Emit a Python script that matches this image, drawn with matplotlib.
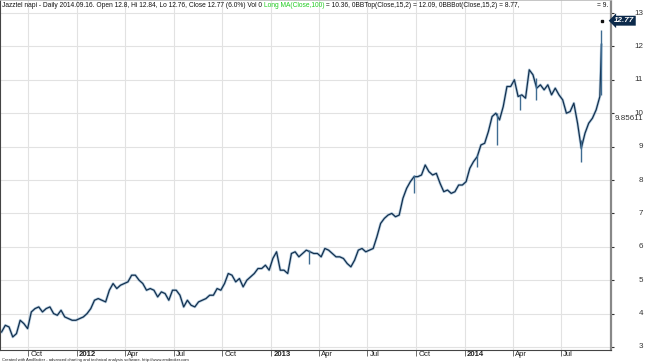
import matplotlib
matplotlib.use("Agg")
import matplotlib.pyplot as plt
import matplotlib.transforms as mtransforms
import numpy as np
import pandas as pd

# weekly closes (Fridays), Jazztel daily
week_start = "2011-08-12"
weekly_close = [
    3.45, 3.65, 3.6, 3.3, 3.4, 3.8, 3.7, 3.55, 4.05, 4.15,
    4.2, 4.05, 4.15, 4.2, 4.0, 3.95, 4.1, 3.9, 3.85, 3.8,
    3.8, 3.85, 3.9, 4.0, 4.15, 4.4, 4.45, 4.4, 4.35, 4.7,
    4.9, 4.75, 4.85, 4.9, 4.95, 5.15, 5.15, 5.0, 4.9, 4.7,
    4.75, 4.7, 4.5, 4.65, 4.6, 4.4, 4.7, 4.7, 4.55, 4.2,
    4.4, 4.25, 4.2, 4.35, 4.4, 4.45, 4.55, 4.55, 4.75, 4.7,
    4.9, 5.2, 5.15, 4.95, 5.05, 4.8, 5.0, 5.1, 5.2, 5.35,
    5.35, 5.45, 5.3, 5.65, 5.85, 5.3, 5.3, 5.2, 5.8, 5.85,
    5.7, 5.8, 5.9, 5.85, 5.8, 5.8, 5.7, 5.95, 5.9, 5.8,
    5.7, 5.7, 5.65, 5.5, 5.4, 5.6, 5.9, 5.95, 5.85, 5.9,
    5.95, 6.3, 6.7, 6.85, 6.95, 7.0, 6.9, 6.95, 7.45, 7.75,
    7.95, 8.1, 8.1, 8.15, 8.45, 8.25, 8.15, 8.2, 7.9, 7.65,
    7.7, 7.6, 7.65, 7.85, 7.85, 7.95, 8.35, 8.55, 8.7, 9.05,
    9.1, 9.45, 9.9, 10.0, 9.8, 10.2, 10.8, 10.8, 11.0, 10.5,
    10.55, 10.45, 11.3, 11.15, 10.75, 10.85, 10.7, 10.85, 10.55, 10.75,
    10.55, 10.4, 10.0, 10.05, 10.3, 9.7, 8.95, 9.4, 9.7, 9.85,
    10.1, 10.5,
]
# last two sessions (takeover jump)
jump_date = "2014-09-15"
jump_close = 12.05
last_date = "2014-09-16"
last_close = 12.77

# single-day ranges that stick out of the weekly line
spike_dates = ["2013-03-13", "2013-09-27", "2014-01-24", "2014-03-03",
               "2014-04-14", "2014-05-15", "2014-08-08", "2014-09-15"]
spike_low = [5.5, 7.6, 8.4, 9.05, 10.1, 10.4, 8.55, 10.55]
spike_high = [5.9, 8.15, 8.75, 10.0, 10.55, 11.05, 9.2, 12.5]

tick_dates = ["2011-10-01", "2012-01-01", "2012-04-01", "2012-07-01",
              "2012-10-01", "2013-01-01", "2013-04-01", "2013-07-01",
              "2013-10-01", "2014-01-01", "2014-04-01", "2014-07-01"]
tick_labels = ["Oct", "2012", "Apr", "Jul", "Oct", "2013", "Apr", "Jul",
               "Oct", "2014", "Apr", "Jul"]
y_ticks = [3, 4, 5, 6, 7, 8, 9, 10, 11, 12, 13]
ind_value = 9.85611

W, H = 645, 364
FONT = ["Liberation Sans Narrow", "Liberation Sans", "DejaVu Sans"]
plt.rcParams["font.family"] = FONT

fig = plt.figure(figsize=(W / 100, H / 100), dpi=100)
ax = fig.add_axes([0, 14 / H, 611 / W, 350 / H])

dates = list(pd.date_range(week_start, periods=len(weekly_close), freq="W-FRI"))
dates.append(pd.Timestamp(jump_date))
closes = weekly_close + [jump_close]

ax.plot(dates, closes, color="#7fa6c6", lw=2.0, alpha=0.55, zorder=2)
ax.plot(dates, closes, color="#12304f", lw=0.9, zorder=3)
ax.vlines(pd.to_datetime(spike_dates), spike_low, spike_high,
          color="#3f6c92", lw=1.0, zorder=3)
ax.plot([pd.Timestamp(last_date)], [last_close], "s", ms=1.6,
        color="#111111", zorder=4)

ax.set_xlim(pd.Timestamp("2011-08-09"), pd.Timestamp("2014-10-03"))
ax.set_ylim(2.91, 13.39)

# x ticks: marks only, labels drawn just right of each mark
ax.set_xticks(pd.to_datetime(tick_dates))
ax.set_xticklabels([])
ax.tick_params(axis="x", length=4.5, width=0.6, color="#555555")
xlab_tr = mtransforms.offset_copy(ax.get_xaxis_transform(), fig=fig,
                                  x=2, y=-1.5, units="dots")
for d, lab in zip(pd.to_datetime(tick_dates), tick_labels):
    ax.text(d, 0, lab, transform=xlab_tr, ha="left", va="top",
            fontsize=5.6, color="#222222", clip_on=False,
            fontweight="bold" if lab.isdigit() else "normal")

# y ticks on the right, labels right-aligned near the image edge
ax.yaxis.tick_right()
ax.set_yticks(y_ticks)
ax.set_yticklabels([])
ax.tick_params(axis="y", length=2, width=0.8, color="#333333")
ylab_x = 643 / 611
for v in y_ticks:
    ax.text(ylab_x, v, str(v), transform=ax.get_yaxis_transform(),
            ha="right", va="center", fontsize=5.8, color="#333333",
            clip_on=False)
ax.text(ylab_x, ind_value, "9.85611", transform=ax.get_yaxis_transform(),
        ha="right", va="center", fontsize=5.8, color="#333333", clip_on=False)

ax.grid(True, color="#e2e2e2", lw=0.8, zorder=0)
ax.set_axisbelow(True)
for side in ("left", "bottom"):
    ax.spines[side].set_color("#444444")
    ax.spines[side].set_linewidth(0.8)
ax.spines["right"].set_color("#888888")
ax.spines["right"].set_linewidth(1.6)
ax.spines["top"].set_color("#bbbbbb")
ax.spines["top"].set_linewidth(0.6)

ax.text(1.005, last_close, "12.77", transform=ax.get_yaxis_transform(),
        ha="left", va="center", fontsize=5.8, color="white", style="italic",
        fontweight="bold", clip_on=False,
        bbox=dict(boxstyle="larrow,pad=0.18", fc="#0c2a4b", ec="none"))

# header line, pieces placed one after another
renderer = fig.canvas.get_renderer()
x_px = 2.0
pieces = [
    ("Jazztel napi - Daily 2014.09.16. Open 12.8, Hi 12.84, Lo 12.76, "
     "Close 12.77 (6.0%) Vol 0 ", "#111111"),
    ("Long MA(Close,100)", "#22cc22"),
    (" = 10.36, 0BBTop(Close,15,2) = 12.09, 0BBBot(Close,15,2) = 8.77,",
     "#111111"),
]
for txt, col in pieces:
    t = fig.text(x_px / W, 1 - 5.5 / H, txt, fontsize=4.75, color=col,
                 ha="left", va="center")
    x_px += t.get_window_extent(renderer).width
fig.text(608 / W, 1 - 5.5 / H, "= 9.", fontsize=4.75, color="#111111",
         ha="right", va="center")

fig.text(2 / W, 1 - 360 / H,
         "Created with AmiBroker - advanced charting and technical analysis "
         "software. http://www.amibroker.com",
         fontsize=3.0, color="#222222", ha="left", va="center")

fig.savefig("out.png", dpi=100)
